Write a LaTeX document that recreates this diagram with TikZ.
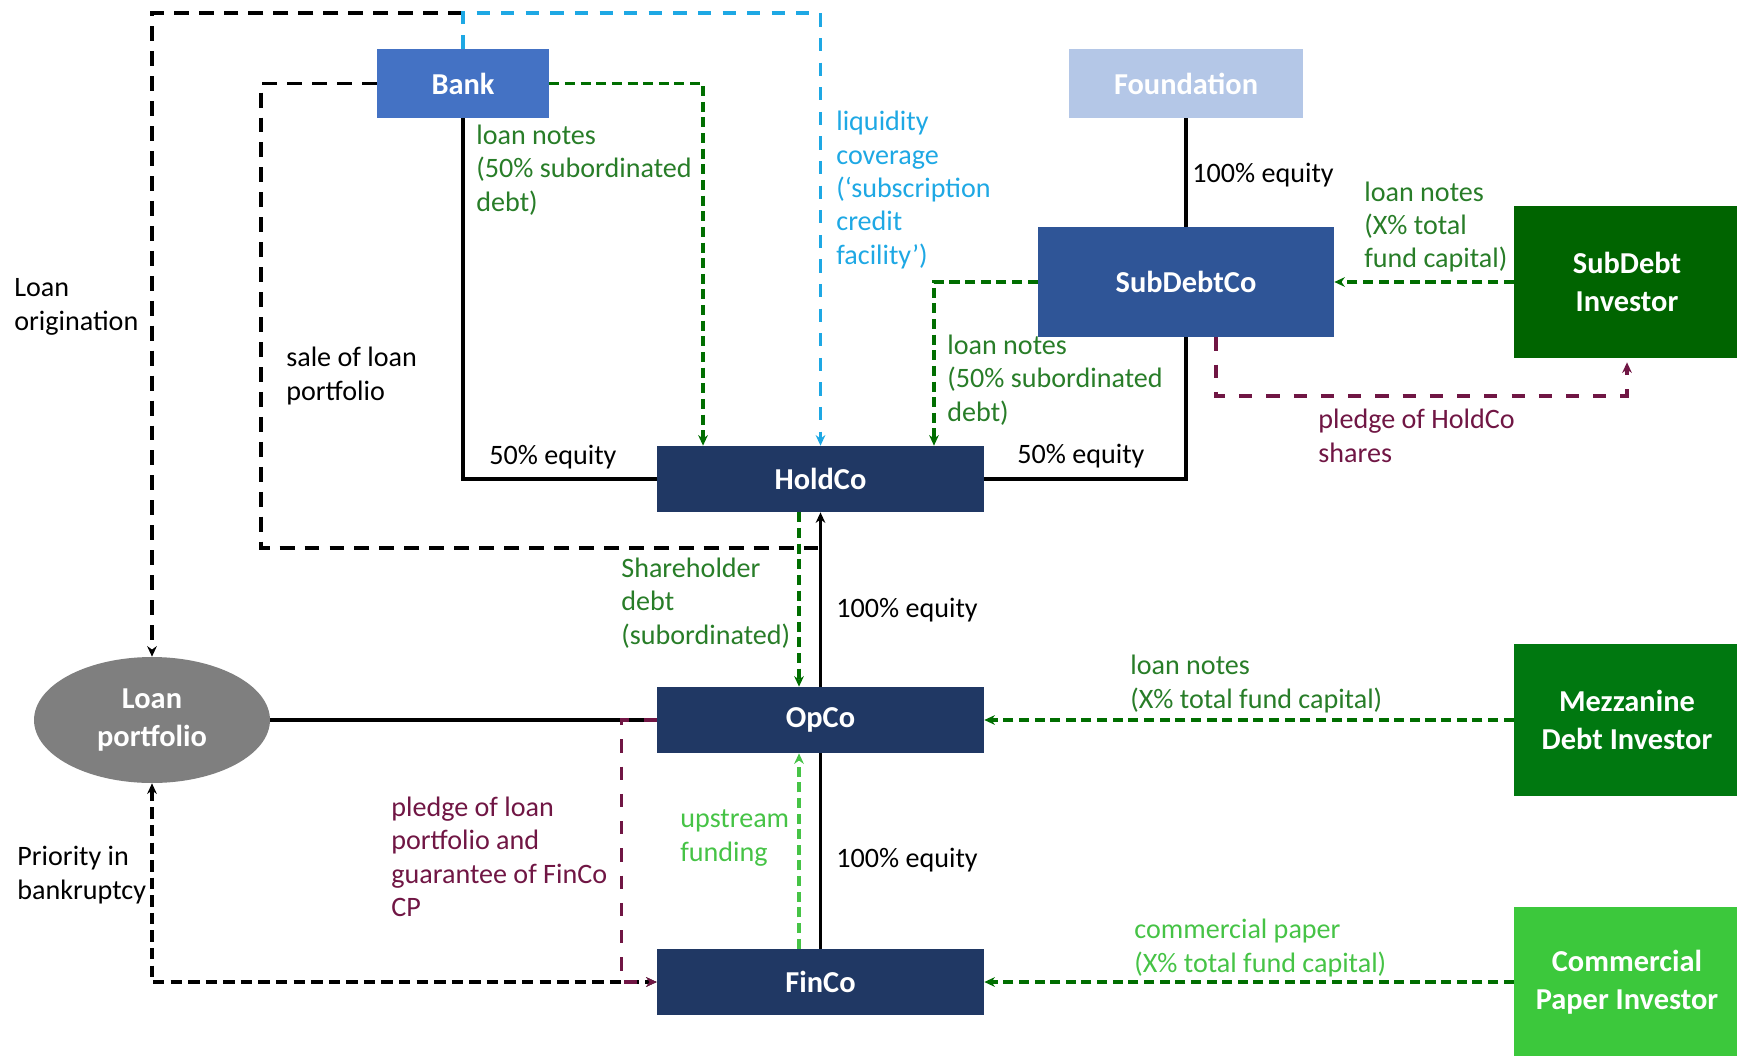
\documentclass[tikz,border=0pt]{standalone}
\usepackage{fontspec}
\setmainfont{Carlito}
\usepackage{tikz}
\usetikzlibrary{shapes}
\usetikzlibrary{positioning}
\usetikzlibrary{calc}
\usetikzlibrary{arrows.meta}
\definecolor{bankblue}{RGB}{68,114,196}
\definecolor{foundblue}{RGB}{180,199,231}
\definecolor{subblue}{RGB}{47,85,151}
\definecolor{navy}{RGB}{32,56,100}
\definecolor{invgreen}{RGB}{0,100,0}
\definecolor{mezzgreen}{RGB}{0,120,16}
\definecolor{cpgreen}{RGB}{60,200,60}
\definecolor{loangray}{RGB}{127,127,127}
\definecolor{debtgreen}{RGB}{0,110,0}
\definecolor{notegreen}{RGB}{40,125,40}
\definecolor{upgreen}{RGB}{70,195,70}
\definecolor{liqblue}{RGB}{30,168,228}
\definecolor{pledgered}{RGB}{112,22,68}
\newcommand{\EntFont}{\fontsize{17.3}{21.5}\selectfont\bfseries}
\newcommand{\LblFont}{\fontsize{16}{19}\selectfont}
\tikzstyle{entity} = [rectangle,align=center,text=white,font=\EntFont,inner sep=0pt]
\tikzstyle{lbl} = [align=left,anchor=west,inner sep=0pt,font=\LblFont]

\begin{document}
\begin{tikzpicture}[x=0.02cm,y=-0.02cm,>={Stealth[length=6pt,width=5.5pt]}]

	\tikzstyle{equity}=[line width=1.9pt];
	\tikzstyle{debt}=[->,debtgreen,line width=1.8pt,dash pattern=on 5.7pt off 3.2pt];
	\tikzstyle{upstream}=[->,upgreen,line width=1.8pt,dash pattern=on 5.7pt off 3.2pt];
	\tikzstyle{liquid}=[->,liqblue,line width=1.8pt,dash pattern=on 7.5pt off 6.5pt];
	\tikzstyle{pledge}=[->,pledgered,line width=1.9pt,dash pattern=on 7.5pt off 8pt];
	\tikzstyle{origin}=[black,line width=1.9pt,dash pattern=on 8.5pt off 5.7pt];
	\tikzstyle{prior}=[<->,black,line width=1.9pt,dash pattern=on 6.5pt off 3.5pt];

	\useasboundingbox (0,0) rectangle (1737,1055);

	\node (1) [entity,fill=bankblue,minimum width=3.44cm,minimum height=1.38cm] at (463,83.5) {Bank};
	\node (2) [entity,fill=foundblue,minimum width=4.68cm,minimum height=1.38cm] at (1186,83.5) {Foundation};
	\node (3) [entity,fill=subblue,minimum width=5.92cm,minimum height=2.2cm] at (1186,282) {SubDebtCo};
	\node (4) [entity,fill=invgreen,minimum width=4.52cm,minimum height=3.06cm] at (1627,282) {SubDebt\\Investor};
	\node (5) [entity,fill=navy,minimum width=6.54cm,minimum height=1.32cm] at (820.5,479) {HoldCo};
	\node (6) [entity,fill=navy,minimum width=6.54cm,minimum height=1.32cm] at (820.5,720) {OpCo};
	\node (7) [entity,fill=navy,minimum width=6.54cm,minimum height=1.32cm] at (820.5,982) {FinCo};
	\node (8) [entity,fill=mezzgreen,minimum width=4.52cm,minimum height=3.04cm] at (1627,720) {Mezzanine\\Debt Investor};
	\node (9) [entity,fill=cpgreen,minimum width=4.52cm,minimum height=3.0cm] at (1627,982) {Commercial\\Paper Investor};
	\node (10) [entity,ellipse,fill=loangray,minimum width=4.72cm,minimum height=2.52cm] at (152,720) {Loan\\portfolio};

	\coordinate (c1) at (463,13);
	\coordinate (c2) at (820.5,13);
	\coordinate (c3) at (261,548);

	% equity lines
	\draw[equity] (1.south) |- (5.west);
	\draw[equity] (3.south) |- (5.east);
	\draw[equity] (2) -- (3);
	\draw[equity,->] (6.north) -- (5.south);
	\draw[equity] (6.south) -- (7.north);
	\draw[equity] (10.east) -- (6.west);

	% loans and funding
	\draw[origin,->] (c1) -| (10.north);
	\draw[origin] (1.west) -| (c3) -- (5.south |- c3);
	\draw[liquid] (1.north) |- (c2) -- (5.north);
	\draw[debt] (1.east) -| ([xshift=-2.35cm]5.north);
	\draw[debt] (3.west) -| ([xshift=2.27cm]5.north);
	\draw[debt] (4.west) -- (3.east);
	\draw[debt] ([xshift=-0.43cm]5.south) -- ([xshift=-0.43cm]6.north);
	\draw[upstream] ([xshift=-0.43cm]7.north) -- ([xshift=-0.43cm]6.south);
	\draw[debt] (8.west) -- (6.east);
	\draw[debt] (9.west) -- (7.east);
	\draw[prior] (10.south) |- (7.west);
	\draw[pledge] ([xshift=0.6cm]3.south) |- ([yshift=-0.74cm]4.south) -- ([yshift=-2pt]4.south);
	\draw[pledge] (6.west) -| ([xshift=-0.7cm]7.west) -- (7.west);

	% labels
	\node[lbl] (l1) at (14,307) {Loan\\origination};
	\node[lbl] (l2) at (286,376) {sale of loan\\portfolio};
	\node[lbl,notegreen] (l3) at (476,170) {loan notes\\(50\% subordinated\\debt)};
	\node[lbl,liqblue] (l4) at (836,190) {liquidity\\coverage\\(‘subscription\\credit\\facility’)};
	\node[lbl] (l5) at (1192,175) {100\% equity};
	\node[lbl,notegreen] (l6) at (1364,227) {loan notes\\(X\% total\\fund capital)};
	\node[lbl,notegreen] (l7) at (947,380) {loan notes\\(50\% subordinated\\debt)};
	\node[lbl,pledgered] (l8) at (1318,436) {pledge of HoldCo\\shares};
	\node[lbl] (l9) at (489,457) {50\% equity};
	\node[lbl] (l10) at (1017,456) {50\% equity};
	\node[lbl,notegreen] (l11) at (621,603) {Shareholder\\debt\\(subordinated)};
	\node[lbl] (l12) at (836,610) {100\% equity};
	\node[lbl,notegreen] (l13) at (1130,684) {loan notes\\(X\% total fund capital)};
	\node[lbl,pledgered] (l14) at (391,857) {pledge of loan\\portfolio and\\guarantee of FinCo\\CP};
	\node[lbl,upgreen] (l15) at (680,838) {upstream\\funding};
	\node[lbl] (l16) at (836,860) {100\% equity};
	\node[lbl] (l17) at (17,875) {Priority in\\bankruptcy};
	\node[lbl,upgreen] (l18) at (1134,948) {commercial paper\\(X\% total fund capital)};
\end{tikzpicture}
\end{document}
